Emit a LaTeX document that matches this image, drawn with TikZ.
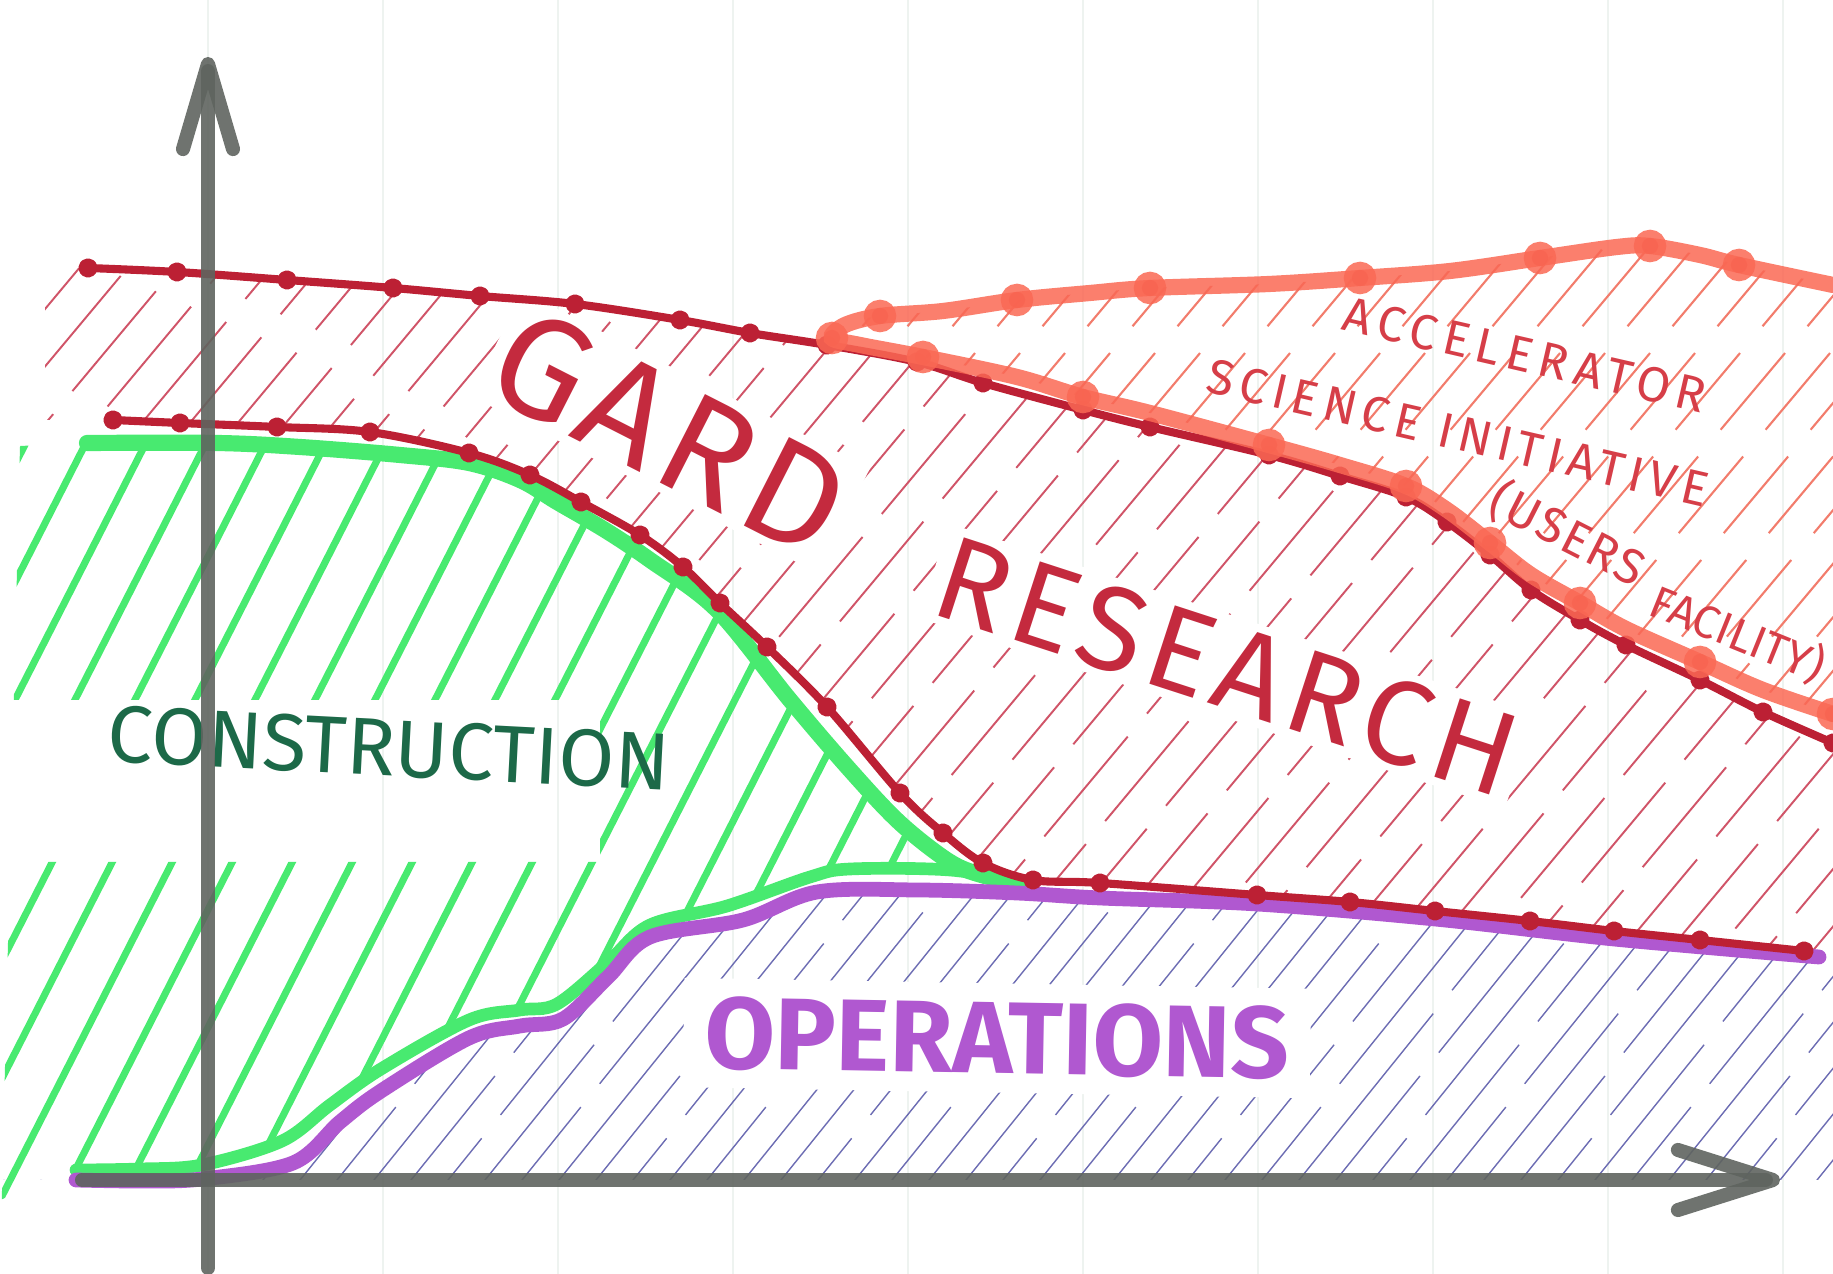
\documentclass[tikz,border=0pt]{standalone}
\usepackage{fontspec}
\setmainfont{Fira Sans}
\usetikzlibrary{arrows.meta}

\definecolor{gardred}{RGB}{188,32,52}
\definecolor{gardtext}{RGB}{196,42,62}
\definecolor{hatchred}{RGB}{208,84,104}
\definecolor{asiorange}{RGB}{250,104,84}
\definecolor{asibead}{RGB}{240,80,62}
\definecolor{asitext}{RGB}{214,62,72}
\definecolor{hatchorange}{RGB}{242,124,108}
\definecolor{constrgreen}{RGB}{72,234,112}
\definecolor{constrdark}{RGB}{28,105,72}
\definecolor{opspurple}{RGB}{176,88,208}
\definecolor{opsblue}{RGB}{72,72,160}
\definecolor{axisgrey}{RGB}{95,100,95}
\definecolor{paperline}{RGB}{238,243,240}

\tikzset{
  paper/.style={draw=paperline,line width=0.5pt},
  axisline/.style={draw=axisgrey,line width=4pt,line cap=round,opacity=0.9},
  redline/.style={color=gardred,line width=2.3pt,line cap=round,line join=round},
  beads/.style={mark=*,mark size=1.6pt,mark options={solid}},
  orangeline/.style={color=asiorange,line width=4.6pt,line cap=round,opacity=0.85},
  asibeads/.style={mark=*,mark repeat=2,mark size=2.3pt,mark options={fill=asibead,draw=none}},
  greenline/.style={draw=constrgreen,line width=4.6pt,line cap=round},
  purpleline/.style={draw=opspurple,line width=4.2pt,line cap=round},
  gardhatch/.style={draw=hatchred,line width=0.55pt,dash pattern=on 1.3cm off 0.3cm},
  asihatch/.style={draw=hatchorange,line width=0.6pt,dash pattern=on 1cm off 0.35cm},
  greenhatch/.style={draw=constrgreen,line width=2pt,line cap=round},
  opshatch/.style={draw=opsblue,line width=0.4pt,opacity=0.8,dash pattern=on 2.2cm off 0.3cm},
  handtext/.style={inner sep=2pt,fill=white},
  asitag/.style={inner sep=0.5pt,text=asitext},
}

% boundaries of the four bands (each one continues the current path)
\newcommand\gardtop{-- plot[smooth,tension=0.55] coordinates {(88,268) (177,272) (287,280) (393,288) (480,296) (575,304) (680,320) (750,333) (827,345) (917,362) (983,383) (1083,410) (1150,427) (1269,455) (1340,476) (1406,497) (1447,522) (1490,555) (1531,590) (1580,620) (1626,645) (1700,680) (1763,712) (1833,743)}}
\newcommand\gardlow{-- plot[smooth,tension=0.55] coordinates {(113,420) (180,423) (277,427) (370,432) (469,453) (530,475) (581,502) (640,535) (683,567) (720,603) (767,647) (827,707) (900,793) (943,833) (983,863) (1033,880) (1100,883) (1257,895) (1350,902) (1435,911) (1530,921) (1614,931) (1700,940) (1804,951)}}
\newcommand\greentop{-- plot[smooth,tension=0.55] coordinates {(87,443) (217,443) (300,447) (400,455) (469,463) (520,480) (557,502) (605,530) (650,560) (717,610) (790,700) (850,770) (900,823) (950,862) (985,876) (1023,883)}}
\newcommand\greenlow{-- plot[smooth,tension=0.55] coordinates {(76,1170) (140,1169) (202,1165) (282,1141) (330,1105) (381,1069) (469,1020) (520,1010) (557,1004) (608,962) (650,925) (727,906) (810,877) (850,869) (950,870) (1023,882)}}
\newcommand\purplecurve{-- plot[smooth,tension=0.55] coordinates {(76,1180) (140,1181) (202,1179) (293,1163) (340,1122) (381,1091) (469,1038) (520,1026) (563,1019) (608,977) (650,937) (743,920) (817,892) (917,890) (1017,893) (1100,898) (1257,904) (1435,919) (1614,939) (1819,957)}}
\newcommand\asiloop{-- plot[smooth,tension=0.55] coordinates {(1833,714) (1763,690) (1700,662) (1626,629) (1580,603) (1531,575) (1490,543) (1447,510) (1406,486) (1340,465) (1269,445) (1150,413) (1083,397) (1017,377) (923,357) (860,345) (832,338) (845,325) (880,316) (943,311) (1017,300) (1090,293) (1150,288) (1269,284) (1360,278) (1450,271) (1540,258) (1617,247) (1650,246) (1700,255) (1739,265) (1833,285)}}

\begin{document}
\begin{tikzpicture}[x=0.01cm,y=-0.01cm]
\useasboundingbox (0,0) rectangle (1833,1274);

% ruled paper
\foreach \x in {208,383,...,1833}
  \draw[paper] (\x,0) -- (\x,1274);

% hatching: GARD research band
\begin{scope}
  \clip (45,268) \gardtop -- (1833,1274) -- (45,1274) -- cycle;
  \clip (0,0) -- (0,420) \gardlow -- (1833,955) -- (1833,0) -- cycle;
  \foreach \x [evaluate=\x as \ph using {mod(abs(\x),7)*0.2}] in {-620,-572,...,1840}
    \draw[gardhatch,dash phase=\ph cm] (\x,990) -- ++(610,-730);
\end{scope}

% hatching: accelerator science initiative
\begin{scope}
  \clip (1833,714) \asiloop -- cycle;
  \foreach \x in {380,425,...,1900}
    \draw[asihatch] (\x,740) -- ++(420,-500);
\end{scope}

% hatching: construction (gap left for the label)
\begin{scope}
  \clip (20,446) \greentop -- (1100,1274) -- (0,1274) -- cycle;
  \clip (0,0) -- (0,1200) \greenlow -- (1100,882) -- (1100,0) -- cycle;
  \clip (0,0) -- (1833,0) -- (1833,1274) -- (0,1274) -- (0,862) -- (600,862) -- (600,700) -- (0,700) -- cycle;
  \foreach \x in {-420,-360,...,1080}
    \draw[greenhatch] (\x,1200) -- ++(390,-765);
\end{scope}

% hatching: operations
\begin{scope}
  \clip (0,1180) \purplecurve -- (1833,957) -- (1833,1180) -- cycle;
  \foreach \x [evaluate=\x as \ph using {mod(abs(\x),5)*0.4}] in {0,37,...,1850}
    \draw[opshatch,dash phase=\ph cm] (\x,1185) -- ++(250,-310);
\end{scope}

% labels
\node[handtext,text=gardtext,rotate=-27,
  font=\fontsize{41}{41}\selectfont\addfontfeature{LetterSpace=5}] (gard) at (670,432) {GARD};
\node[handtext,text=gardtext,rotate=-18,
  font=\fontsize{34}{34}\selectfont\addfontfeature{LetterSpace=6}] (research) at (1227,666) {RESEARCH};
\node[inner sep=1pt,text=constrdark,rotate=-3,
  font=\fontsize{23}{23}\selectfont] (construction) at (389,748) {CONSTRUCTION};
\node[handtext,inner xsep=6pt,inner ysep=5pt,text=opspurple,rotate=-1,
  font=\fontsize{29}{29}\selectfont\bfseries] (operations) at (997,1038) {OPERATIONS};
\node[asitag,rotate=-13,font=\fontsize{14}{14}\selectfont\addfontfeature{LetterSpace=14}] (asiA) at (1525,355) {ACCELERATOR};
\node[asitag,rotate=-13,font=\fontsize{14}{14}\selectfont\addfontfeature{LetterSpace=12}] (asiB) at (1458,433) {SCIENCE INITIATIVE};
\node[asitag,rotate=-27,font=\fontsize{14}{14}\selectfont\addfontfeature{LetterSpace=4}] (asiC) at (1568,534) {(USERS};
\node[asitag,rotate=-22,font=\fontsize{13}{13}\selectfont] (asiD) at (1738,634) {FACILITY)};

% band boundaries
\draw[greenline] (87,443) \greentop;
\draw[greenline,line width=3.6pt] (76,1170) \greenlow;
\draw[purpleline] (76,1180) \purplecurve;
\draw[redline,beads] (113,420) \gardlow;
\draw[redline,beads] (88,268) \gardtop;
\draw[orangeline,asibeads] (1833,714) \asiloop;

% axes
\coordinate (ybot) at (208,1268);
\coordinate (ytip) at (208,57);
\coordinate (xleft) at (82,1180);
\coordinate (xtip) at (1780,1180);
\draw[axisline,-{Straight Barb[length=8.5mm,width=5mm,round]}] (ybot) -- (ytip);
\draw[axisline,-{Straight Barb[length=9.5mm,width=6mm,round]}] (xleft) -- (xtip);
\end{tikzpicture}
\end{document}
